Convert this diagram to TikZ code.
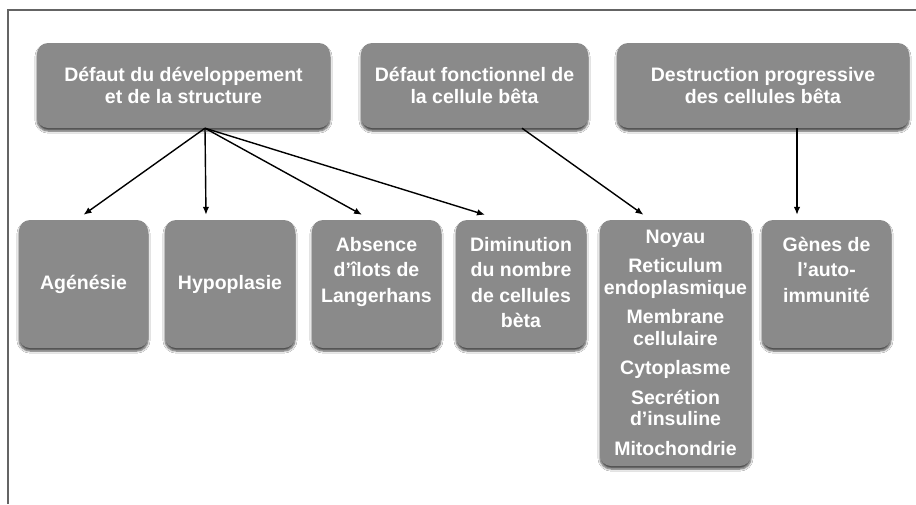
\documentclass[tikz,border=0pt]{standalone}
\usepackage{fontspec}
\setmainfont{Liberation Sans}
\usetikzlibrary{positioning}
\usetikzlibrary{arrows, arrows.meta}
\usetikzlibrary{shadows.blur}

\definecolor{boxgray}{RGB}{138,138,138}
\definecolor{framegray}{RGB}{100,100,100}

\tikzset{
	box/.style={rectangle, rounded corners=11pt, fill=boxgray, text=white,
		font=\bfseries\fontsize{19.5}{22}\selectfont, align=center, inner sep=0pt,
		blur shadow={shadow xshift=0pt, shadow yshift=-3pt,
			shadow blur steps=6, shadow opacity=70}},
	headbox/.style={box, minimum width=#1, minimum height=85pt},
	cellbox/.style={box, minimum width=#1, minimum height=128pt},
	celltext/.style={text=white, align=center, inner sep=0pt,
		font=\bfseries\fontsize{19.5}{25.5}\selectfont},
	link/.style={line width=1.4pt, -{Latex[length=8pt, width=6.5pt]}},
}

\begin{document}
\begin{tikzpicture}[x=1pt, y=1pt]
	\useasboundingbox (0,0) rectangle (916,-504);
	\fill[white] (0,0) rectangle (916,-504);
	\draw [line width=1.3pt, framegray] (8,-504) -- (8,-10) -- (916,-10);

	% causes
	\node[headbox=293pt] (dev) at (183.5,-85.5)
		{D\'efaut du d\'eveloppement\\et de la structure};
	\node[headbox=227pt] (fonc) at (474.5,-85.5)
		{D\'efaut fonctionnel de\\la cellule b\^eta};
	\node[headbox=292pt] (destr) at (763,-85.5)
		{Destruction progressive\\des cellules b\^eta};

	% consequences
	\node[cellbox=129pt] (agen) at (83.5,-284) {Ag\'en\'esie};
	\node[cellbox=130pt] (hypo) at (230,-284) {Hypoplasie};
	\node[cellbox=129pt] (ilots) at (376.5,-284) {};
	\node[celltext, below=17pt of ilots.north] (ilotstxt)
		{Absence\\d'\^ilots de\\Langerhans};
	\node[cellbox=130pt] (dimin) at (521,-284) {};
	\node[celltext, below=17pt of dimin.north] (dimintxt)
		{Diminution\\du nombre\\de cellules\\b\`eta};
	\node[box, minimum width=151pt, minimum height=246pt] (noyau) at (675.5,-343) {};
	\node[celltext, font=\bfseries\fontsize{19.5}{21.5}\selectfont,
		below=10pt of noyau.north] (noyautxt)
		{Noyau\\[8pt]Reticulum\\endoplasmique\\[8pt]Membrane\\cellulaire\\[8pt]%
		Cytoplasme\\[8pt]Secr\'etion\\d'insuline\\[8pt]Mitochondrie};
	\node[cellbox=129pt] (genes) at (826.5,-284) {};
	\node[celltext, below=17pt of genes.north] (genestxt)
		{G\`enes de\\l'auto-\\immunit\'e};

	% links
	\draw [link] ([xshift=21.5pt]dev.south) -- ([yshift=5pt]agen.north);
	\draw [link] ([xshift=21.5pt]dev.south) -- ([xshift=-24pt, yshift=5pt]hypo.north);
	\draw [link] ([xshift=21.5pt]dev.south) -- ([xshift=-14.5pt, yshift=5pt]ilots.north);
	\draw [link] ([xshift=21.5pt]dev.south) -- ([xshift=-36pt, yshift=5pt]dimin.north);
	\draw [link] ([xshift=47.5pt]fonc.south) -- ([xshift=-32pt, yshift=5pt]noyau.north);
	\draw [link] ([xshift=34pt]destr.south) -- ([xshift=-29.5pt, yshift=5pt]genes.north);
\end{tikzpicture}
\end{document}
